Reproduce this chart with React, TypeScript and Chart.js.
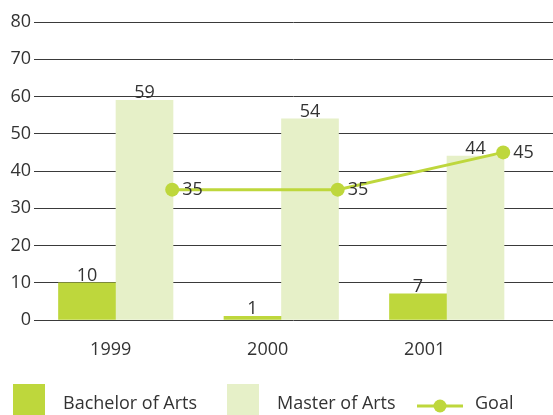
import { useEffect, useRef } from 'react';
import { Chart, registerables } from 'chart.js';

Chart.register(...registerables);

// ---- data ----
const years = ['1999', '2000', '2001'];
const bachelorOfArts = [10, 1, 7];
const masterOfArts = [59, 54, 44];
const goal = [35, 35, 45];
const seriesNames = ['Bachelor of Arts', 'Master of Arts', 'Goal'];
const yMin = 0;
const yMax = 80;
const yStep = 10;

// ---- styles ----
const FONT = "'Open Sans', sans-serif";
const TEXT = '#333333';
const GREEN = '#bed73c';
const LIGHT = '#e6f0c8';

export default function App() {
  const ref = useRef<HTMLCanvasElement>(null);

  useEffect(() => {
    const canvas = ref.current;
    if (!canvas) return;
    const yearNums = years.map(Number);
    const setYearTicks = (s: any) => {
      s.ticks = yearNums.map((v) => ({ value: v }));
    };
    const noPad = (s: any) => {
      s.paddingLeft = 0;
      s.paddingRight = 0;
    };
    const hiddenX = (min: number, max: number) => ({
      type: 'linear',
      axis: 'x',
      position: 'bottom',
      display: false,
      offset: false,
      bounds: 'data',
      min,
      max,
      afterBuildTicks: setYearTicks,
      afterFit: noPad,
    });

    const valueLabels = {
      id: 'valueLabels',
      afterDatasetsDraw(chart: any) {
        const ctx = chart.ctx;
        ctx.save();
        ctx.font = `18px ${FONT}`;
        ctx.fillStyle = TEXT;
        chart.data.datasets.forEach((ds: any, di: number) => {
          const meta = chart.getDatasetMeta(di);
          meta.data.forEach((el: any, i: number) => {
            const v = ds.data[i];
            if (meta.type === 'bar') {
              ctx.textAlign = 'center';
              ctx.textBaseline = 'alphabetic';
              ctx.fillText(String(v), el.x, el.y - 2);
            } else {
              ctx.textAlign = 'left';
              ctx.textBaseline = 'middle';
              ctx.fillText(String(v), el.x + 10, el.y);
            }
          });
        });
        ctx.restore();
      },
    };

    const customLegend = {
      id: 'customLegend',
      afterDraw(chart: any) {
        const ctx = chart.ctx;
        const xs = [13, 227, 417];
        ctx.save();
        ctx.font = `18px ${FONT}`;
        ctx.textBaseline = 'middle';
        ctx.textAlign = 'left';
        chart.data.datasets.forEach((ds: any, i: number) => {
          const x = xs[i];
          if (ds.type === 'line') {
            ctx.strokeStyle = ds.borderColor;
            ctx.lineWidth = 3;
            ctx.beginPath();
            ctx.moveTo(x, 406);
            ctx.lineTo(x + 46, 406);
            ctx.stroke();
            ctx.fillStyle = ds.pointBackgroundColor;
            ctx.beginPath();
            ctx.arc(x + 23, 406, 6.5, 0, Math.PI * 2);
            ctx.fill();
            ctx.fillStyle = TEXT;
            ctx.fillText(ds.label, x + 58, 404);
          } else {
            ctx.fillStyle = ds.backgroundColor;
            ctx.fillRect(x, 384, 32, 31);
            ctx.fillStyle = TEXT;
            ctx.fillText(ds.label, x + 50, 404);
          }
        });
        ctx.restore();
      },
    };

    const chart = new Chart(canvas, {
      type: 'bar',
      data: {
        labels: years,
        datasets: [
          {
            type: 'bar',
            label: seriesNames[0],
            data: bachelorOfArts,
            backgroundColor: GREEN,
            xAxisID: 'xBA',
            yAxisID: 'y',
            grouped: false,
            barThickness: 57,
            order: 1,
          },
          {
            type: 'bar',
            label: seriesNames[1],
            data: masterOfArts,
            backgroundColor: LIGHT,
            xAxisID: 'xMA',
            yAxisID: 'y',
            grouped: false,
            barThickness: 57,
            order: 1,
          },
          {
            type: 'line',
            label: seriesNames[2],
            data: goal,
            borderColor: GREEN,
            backgroundColor: GREEN,
            pointBackgroundColor: GREEN,
            pointBorderWidth: 0,
            pointRadius: 7,
            borderWidth: 3,
            xAxisID: 'xGoal',
            yAxisID: 'y',
            order: 0,
          },
        ] as any,
      },
      options: {
        responsive: false,
        animation: false,
        layout: { autoPadding: false, padding: { top: 22, bottom: 55, left: 0, right: 0 } },
        plugins: { legend: { display: false }, tooltip: { enabled: false } },
        scales: {
          xBA: hiddenX(1998.6798, 2001.8158),
          xMA: hiddenX(1998.3323, 2001.4683),
          xGoal: hiddenX(1998.165, 2001.301),
          xLabels: {
            type: 'linear',
            axis: 'x',
            position: 'bottom',
            offset: false,
            bounds: 'data',
            min: 1998.5115,
            max: 2001.8172,
            afterBuildTicks: setYearTicks,
            grid: { display: false, drawTicks: false },
            border: { display: false },
            ticks: {
              padding: 19,
              color: TEXT,
              font: { family: FONT, size: 18 },
              maxRotation: 0,
              autoSkip: false,
              callback: (v: any) => String(v),
            },
            afterFit: (s: any) => {
              s.height = 40;
              s.paddingLeft = 0;
              s.paddingRight = 0;
            },
          },
          y: {
            type: 'linear',
            min: yMin,
            max: yMax,
            ticks: {
              stepSize: yStep,
              padding: 3,
              color: TEXT,
              font: { family: FONT, size: 18 },
            },
            grid: { color: '#3a3a3a', lineWidth: 1, drawTicks: false },
            border: { display: false },
            afterFit: (s: any) => {
              s.width = 34;
            },
          },
        } as any,
      },
      plugins: [valueLabels, customLegend],
    });

    return () => chart.destroy();
  }, []);

  return (
    <div style={{ position: 'fixed', left: 0, top: 0, width: 553, height: 415, background: '#fff' }}>
      <canvas ref={ref} width={553} height={415} style={{ display: 'block' }} />
    </div>
  );
}
